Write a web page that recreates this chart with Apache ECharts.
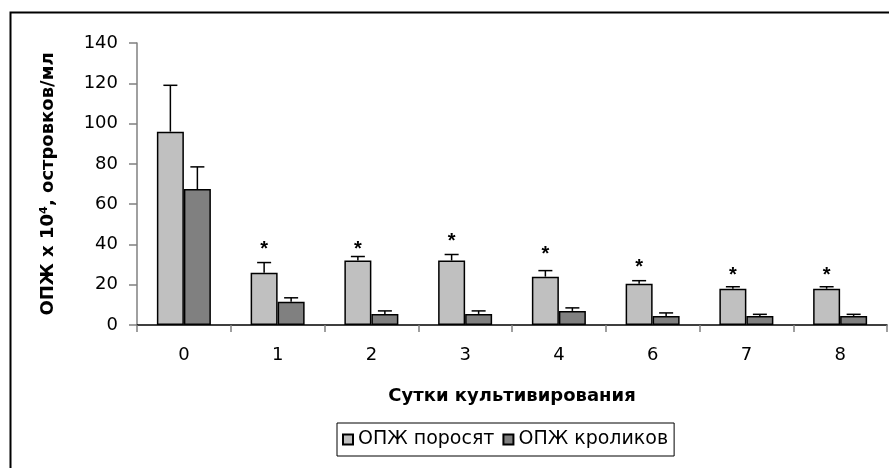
<!DOCTYPE html>
<html>
<head>
<meta charset="utf-8">
<script src="https://cdn.jsdelivr.net/npm/echarts@6/dist/echarts.min.js"></script>
<style>html,body{margin:0;padding:0;background:#fff;}#c{width:889px;height:468px;}</style>
</head>
<body>
<div id="c"></div>
<script>
// ---- data ----
var categories = ['0', '1', '2', '3', '4', '6', '7', '8'];
var seriesNames = ['ОПЖ поросят', 'ОПЖ кроликов'];
var piglets = [96, 26, 32, 32, 24, 20.5, 18, 18];
var pigletsErrTop = [119, 31, 34, 35, 27, 22, 19, 19];
var rabbits = [67.5, 11.5, 5.5, 5.5, 7, 4.5, 4.5, 4.5];
var rabbitsErrTop = [78.5, 13.5, 7, 7, 8.5, 6, 5.3, 5.3];
var starLevel = [null, 40, 40, 44, 37.5, 31, 27, 27];
var yTicks = {min: 0, max: 140, interval: 20};
var xAxisTitle = 'Сутки культивирования';
var yAxisTitle = 'ОПЖ х 10⁴, островков/мл';

// ---- chart ----
var FONT = 'DejaVu Sans';
var BAR_W = 27;
var chart = echarts.init(document.getElementById('c'), null, {renderer: 'canvas'});

function errData(vals, tops) {
  return vals.map(function (v, i) { return [i, v, tops[i]]; });
}
function errRender(offset) {
  return function (params, api) {
    var i = api.value(0);
    var base = api.coord([i, api.value(1)]);
    var top = api.coord([i, api.value(2)]);
    var x = base[0] + offset;
    var st = {stroke: '#000', lineWidth: 1.5};
    return {type: 'group', children: [
      {type: 'line', shape: {x1: x, y1: base[1], x2: x, y2: top[1]}, style: st},
      {type: 'line', shape: {x1: x - 7, y1: top[1], x2: x + 7, y2: top[1]}, style: st}
    ]};
  };
}
var starData = [];
starLevel.forEach(function (v, i) { if (v != null) starData.push([i, v]); });

chart.setOption({
  animation: false,
  backgroundColor: '#fff',
  graphic: [{
    type: 'rect', left: 8, top: 10, shape: {width: 1000, height: 1000},
    style: {fill: 'none', stroke: '#000', lineWidth: 2}, silent: true
  }],
  grid: {left: 137, right: 2, top: 43, bottom: 143, containLabel: false},
  legend: {
    left: 337, top: 423,
    data: seriesNames,
    itemWidth: 10, itemHeight: 10, itemGap: 8,
    padding: [7, 6, 7, 5],
    borderColor: '#000', borderWidth: 1,
    icon: 'rect',
    textStyle: {fontFamily: FONT, fontSize: 19, color: '#000', padding: [0, 0, 0, 0]}
  },
  xAxis: {
    type: 'category', data: categories,
    name: xAxisTitle, nameLocation: 'middle', nameGap: 62,
    nameTextStyle: {fontFamily: FONT, fontSize: 18, fontWeight: 'bold', color: '#000'},
    axisLine: {lineStyle: {color: '#000', width: 1.5}},
    axisTick: {show: true, length: 7, lineStyle: {color: '#808080', width: 1.5}},
    axisLabel: {fontFamily: FONT, fontSize: 18, color: '#000', margin: 21},
    splitLine: {show: false}
  },
  yAxis: {
    type: 'value', min: yTicks.min, max: yTicks.max, interval: yTicks.interval,
    name: yAxisTitle, nameLocation: 'middle', nameGap: 80,
    nameTextStyle: {fontFamily: FONT, fontSize: 18, fontWeight: 'bold', color: '#000'},
    axisLine: {show: true, lineStyle: {color: '#808080', width: 1.5}},
    axisTick: {show: true, length: 8, lineStyle: {color: '#808080', width: 1.5}},
    axisLabel: {fontFamily: FONT, fontSize: 18, color: '#000', margin: 19},
    splitLine: {show: false}
  },
  series: [
    {
      name: seriesNames[0], type: 'bar', data: piglets, barWidth: BAR_W, barGap: '0%',
      itemStyle: {color: '#C0C0C0', borderColor: '#000', borderWidth: 1.5}
    },
    {
      name: seriesNames[1], type: 'bar', data: rabbits, barWidth: BAR_W, barGap: '0%',
      itemStyle: {color: '#808080', borderColor: '#000', borderWidth: 1.5}
    },
    {
      type: 'custom', data: errData(piglets, pigletsErrTop), renderItem: errRender(-BAR_W / 2),
      encode: {x: 0, y: [1, 2]}, z: 1, silent: true
    },
    {
      type: 'custom', data: errData(rabbits, rabbitsErrTop), renderItem: errRender(BAR_W / 2),
      encode: {x: 0, y: [1, 2]}, z: 1, silent: true
    },
    {
      type: 'custom', data: starData, encode: {x: 0, y: 1}, silent: true,
      renderItem: function (params, api) {
        var p = api.coord([api.value(0), api.value(1)]);
        return {type: 'text', x: p[0] - BAR_W / 2, y: p[1] + 5,
          style: {text: '*', fontFamily: 'Liberation Sans', fontWeight: 'bold', fontSize: 20, fill: '#000', align: 'center', verticalAlign: 'middle'}};
      }
    }
  ]
});
</script>
</body>
</html>
